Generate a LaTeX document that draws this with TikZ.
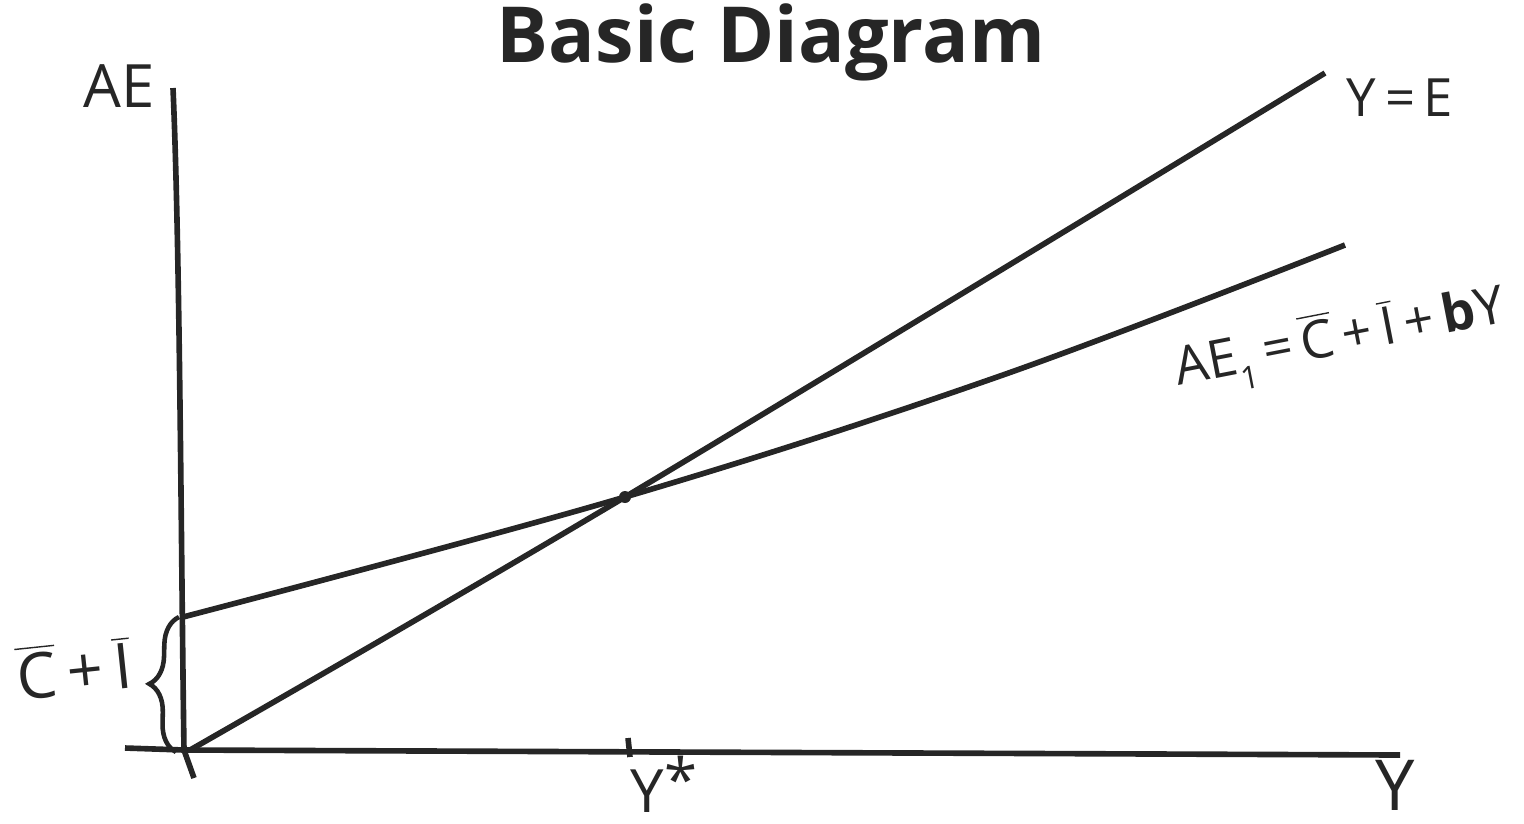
\documentclass[tikz,border=0pt]{standalone}
\usepackage{fontspec}
\setmainfont{Open Sans}
\setsansfont{Open Sans}
\usepackage{tikz}
\usetikzlibrary{positioning, decorations.pathreplacing}
\definecolor{inkgray}{RGB}{38,38,38}

\tikzset{
  axisline/.style={draw=inkgray, line width=1.6pt},
  curveline/.style={draw=inkgray, line width=1.6pt},
  handlabel/.style={text=inkgray, font=\sffamily, inner sep=1pt}
}

\begin{document}
\begin{tikzpicture}[x=0.01cm, y=-0.01cm]
    \useasboundingbox (0,0) rectangle (1524,823);
    % Title
    \node[text=inkgray, font=\fontsize{22}{26}\selectfont\bfseries] (title) at (771,42) {Basic Diagram};

    % Axes
    \coordinate (top) at (173,88);
    \coordinate (orig) at (184,750);
    \coordinate (bot) at (194,778);
    \coordinate (left) at (125,748);
    \coordinate (right) at (1400,755);
    \draw[axisline] (top) .. controls (180,250) and (181,550) .. (orig) -- (bot);
    \draw[axisline] (left) -- (orig) -- (right);

    % Lines
    \coordinate (ye) at (1325,73);
    \coordinate (ae0) at (183,617);
    \coordinate (eq) at (625,497);
    \coordinate (ae1) at (1345,245);
    \draw[curveline] plot[smooth, tension=0.6] coordinates {(190,750) (eq) (ye)};
    \draw[curveline] plot[smooth, tension=0.6] coordinates {(ae0) (eq) (1000,376) (ae1)};
    \fill[inkgray] (eq) circle (6);

    % Tick
    \draw[axisline] (628,738) -- (630,757);

    % Brace
    \draw[axisline, line width=1.3pt, decorate, decoration={brace, amplitude=8pt, aspect=0.5}]
        (176,752) -- (179,617);

    % Labels
    \node[handlabel, font=\sffamily\fontsize{17}{20}\selectfont] (aelab) at (119,86) {AE};
    \node[handlabel, font=\sffamily\fontsize{20}{22}\selectfont] (ylab) at (1395,785) {Y};
    \node[handlabel, font=\sffamily\fontsize{17}{20}\selectfont] (ystar) at (664,784) {Y\raisebox{0.35ex}{*}};
    \node[handlabel, font=\sffamily\fontsize{15}{18}\selectfont] (yelab) at (1400,98) {Y\,=\,E};
    \node[handlabel, font=\sffamily\fontsize{15}{18}\selectfont, rotate=11] (aelab1) at (1340,340)
        {AE\raisebox{-0.6ex}{\small 1}\,=\,$\overline{\mathsf{C}}$\,+\,$\overline{\mathsf{I}}$\,+\,\textbf{b}Y};
    \node[handlabel, font=\sffamily\fontsize{18}{20}\selectfont, rotate=6] (cilab) at (74,668)
        {$\overline{\mathsf{C}}$\,+\,$\overline{\mathsf{I}}$};
\end{tikzpicture}
\end{document}
